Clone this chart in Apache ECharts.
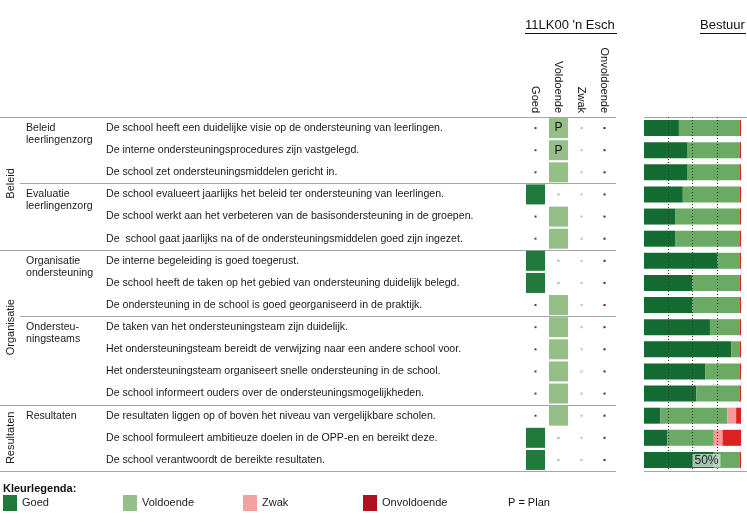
<!DOCTYPE html>
<html><head><meta charset="utf-8">
<script src="https://cdn.jsdelivr.net/npm/echarts@6/dist/echarts.min.js"></script>
<style>html,body{margin:0;padding:0;background:#fff}#c{width:747px;height:524px}</style>
</head><body><div id="c"></div>
<script>
const statements = [
  'De school heeft een duidelijke visie op de ondersteuning van leerlingen.',
  'De interne ondersteuningsprocedures zijn vastgelegd.',
  'De school zet ondersteuningsmiddelen gericht in.',
  'De school evalueert jaarlijks het beleid ter ondersteuning van leerlingen.',
  'De school werkt aan het verbeteren van de basisondersteuning in de groepen.',
  'De  school gaat jaarlijks na of de ondersteuningsmiddelen goed zijn ingezet.',
  'De interne begeleiding is goed toegerust.',
  'De school heeft de taken op het gebied van ondersteuning duidelijk belegd.',
  'De ondersteuning in de school is goed georganiseerd in de praktijk.',
  'De taken van het ondersteuningsteam zijn duidelijk.',
  'Het ondersteuningsteam bereidt de verwijzing naar een andere school voor.',
  'Het ondersteuningsteam organiseert snelle ondersteuning in de school.',
  'De school informeert ouders over de ondersteuningsmogelijkheden.',
  'De resultaten liggen op of boven het niveau van vergelijkbare scholen.',
  'De school formuleert ambitieuze doelen in de OPP-en en bereikt deze.',
  'De school verantwoordt de bereikte resultaten.'
];
const subgroups = ['Beleid\nleerlingenzorg','','','Evaluatie\nleerlingenzorg','','','Organisatie\nondersteuning','','','Ondersteu-\nningsteams','','','','Resultaten','',''];
const groups = [
  {name: 'Beleid', from: 0, to: 6},
  {name: 'Organisatie', from: 6, to: 13},
  {name: 'Resultaten', from: 13, to: 16}
];
const columns = ['Goed', 'Voldoende', 'Zwak', 'Onvoldoende'];
// school rating: column index per statement
const schoolRating = [1,1,1,0,1,1,0,0,1,1,1,1,1,1,0,0];
const plan = [1,1,0,0,0,0,0,0,0,0,0,0,0,0,0,0];
// Bestuur percentages
const bestuurGoed = [36,45,45,40,32,32,76,50,50,68,90,63,54,17,24,72];
const bestuurVoldoende = [63,54,54,59,67,67,23,49,49,31,9,36,45,69,48,27];
const bestuurZwak = [0,0,0,0,0,0,0,0,0,0,0,0,0,9,9,0];
const bestuurOnvoldoende = [1,1,1,1,1,1,1,1,1,1,1,1,1,5,19,1];
const fullRules = [0,6,13,16];
const indentRules = [3,9];
const xTicks = [0,25,50,75,100];

const cellColors = ['#217a3c','#95bf87','#f4a0a0','#b01020'];
const dotColors = ['#2f5040','#8fbf8f','#e4a8b0','#701030'];
const barColors = ['#146b32','#6aaa64','#f59a9a','#dd2020'];
const legendColors = ['#1f7a3a','#94bf86','#f4a0a0','#b01020'];
const FONT = '"Liberation Sans", Arial, sans-serif';

const cellData = schoolRating.map((c, i) => ({
  value: [c, i],
  itemStyle: {color: cellColors[c], opacity: 1},
  label: {show: !!plan[i]}
}));
const dotData = [];
schoolRating.forEach((c, i) => {
  for (let k = 0; k < columns.length; k++) if (k !== c) dotData.push({value: [k, i], itemStyle: {color: dotColors[k], opacity: 1}});
});
const groupLabel = {};
groups.forEach(g => { groupLabel[(g.from + g.to) / 2] = g.name; });

function ruleRender(params, api) {
  const y = Math.round(api.coord([0, api.value(1)])[1]) + 0.5;
  const cs = params.coordSys;
  return {type: 'line', shape: {x1: cs.x, y1: y, x2: cs.x + cs.width, y2: y},
          style: {stroke: '#a6a6a6', lineWidth: 1}};
}
const legendLeft = [3, 123, 243, 363];
const G = {top: 117, height: 354, outerBoundsMode: 'none', containLabel: false};

const chart = echarts.init(document.getElementById('c'));
const option = {
  animation: false,
  textStyle: {fontFamily: FONT},
  title: [
    {text: "11LK00 'n Esch", left: 525, top: 19, padding: 0, textStyle: {fontSize: 13, fontWeight: 'normal', color: '#111', fontFamily: FONT}},
    {text: 'Bestuur', left: 700, top: 19, padding: 0, textStyle: {fontSize: 13, fontWeight: 'normal', color: '#111', fontFamily: FONT}},
    {text: 'Kleurlegenda:', left: 3, top: 483, padding: 0, textStyle: {fontSize: 11, fontWeight: 'bold', color: '#111', fontFamily: FONT}},
    {text: 'P = Plan', left: 508, top: 497, padding: 0, textStyle: {fontSize: 11, fontWeight: 'normal', color: '#111', fontFamily: FONT}}
  ],
  graphic: [
    {type: 'line', shape: {x1: 525, y1: 33.5, x2: 617, y2: 33.5}, style: {stroke: '#111', lineWidth: 1}},
    {type: 'line', shape: {x1: 700, y1: 33.5, x2: 746, y2: 33.5}, style: {stroke: '#111', lineWidth: 1}}
  ],
  legend: columns.map((n, i) => ({
    left: legendLeft[i], top: 495, itemWidth: 14, itemHeight: 16, icon: 'rect', padding: 0,
    selectedMode: false,
    textStyle: {fontSize: 11, color: '#222', fontFamily: FONT},
    data: [{name: n, itemStyle: {color: legendColors[i]}}]
  })),
  grid: [
    Object.assign({left: 524, width: 92}, G),
    Object.assign({left: 0, width: 616}, G),
    Object.assign({left: 20, width: 596}, G),
    Object.assign({left: 644, width: 97}, G),
    Object.assign({left: 644, width: 103}, G),
    Object.assign({left: 26, width: 78}, G),
    Object.assign({left: 16, width: 4}, G)
  ],
  xAxis: [
    {type: 'category', gridIndex: 0, data: columns, position: 'top',
     axisLine: {show: false}, axisTick: {show: false},
     axisLabel: {rotate: 90, margin: 4, fontSize: 11, color: '#111', interval: 0}},
    {type: 'value', gridIndex: 1, min: 0, max: 1, show: false},
    {type: 'value', gridIndex: 2, min: 0, max: 1, show: false},
    {type: 'value', gridIndex: 3, min: 0, max: 100, interval: 25, z: 5,
     axisLine: {show: false}, axisTick: {show: false},
     splitLine: {show: true, showMinLine: false, showMaxLine: false, lineStyle: {type: [1, 2], color: '#333', width: 1}},
     axisLabel: {inside: true, margin: 4, align: 'left', fontSize: 12, color: '#222',
       rich: {p: {fontSize: 12, color: '#222', backgroundColor: 'rgba(215,228,220,0.75)', padding: [1, 2, 0, 2]}},
       formatter: v => (v === xTicks[2] ? '{p|' + v + '%}' : '')}},
    {type: 'value', gridIndex: 4, min: 0, max: 1, show: false},
    {type: 'value', gridIndex: 5, min: 0, max: 1, show: false},
    {type: 'value', gridIndex: 6, min: 0, max: 1, show: false}
  ],
  yAxis: [
    {type: 'category', gridIndex: 0, data: statements, inverse: true,
     axisLine: {show: false}, axisTick: {show: false},
     axisLabel: {margin: 418, align: 'left', fontSize: 10.6, color: '#1a1a1a', interval: 0}},
    {type: 'category', gridIndex: 5, data: subgroups, inverse: true,
     axisLine: {show: false}, axisTick: {show: false},
     axisLabel: {inside: true, margin: 0, align: 'left', verticalAlign: 'top', padding: [-6, 0, 0, 0], lineHeight: 12, fontSize: 10.6, color: '#1a1a1a', interval: 0}},
    {type: 'value', gridIndex: 6, min: 0, max: 16, interval: 0.5, inverse: true,
     axisLine: {show: false}, axisTick: {show: false}, splitLine: {show: false},
     axisLabel: {rotate: 90, margin: 0, fontSize: 11, color: '#1a1a1a', showMinLabel: true, showMaxLabel: true,
       formatter: v => groupLabel[v] || ''}},
    {type: 'value', gridIndex: 1, min: 0, max: 16, inverse: true, show: false},
    {type: 'value', gridIndex: 2, min: 0, max: 16, inverse: true, show: false},
    {type: 'category', gridIndex: 3, data: statements, inverse: true, show: false},
    {type: 'value', gridIndex: 4, min: 0, max: 16, inverse: true, show: false}
  ],
  series: [
    {type: 'scatter', name: 'school', xAxisIndex: 0, yAxisIndex: 0, symbol: 'rect', symbolSize: [19, 20],
     data: cellData, silent: true,
     label: {show: false, position: 'inside', formatter: 'P', fontSize: 12, color: '#111'}},
    {type: 'scatter', name: 'dots', xAxisIndex: 0, yAxisIndex: 0, symbol: 'rect', symbolSize: 2,
     data: dotData, silent: true},
    {type: 'custom', name: 'rules1', xAxisIndex: 1, yAxisIndex: 3, renderItem: ruleRender,
     data: fullRules.map(v => [0, v]), silent: true},
    {type: 'custom', name: 'rules2', xAxisIndex: 2, yAxisIndex: 4, renderItem: ruleRender,
     data: indentRules.map(v => [0, v]), silent: true},
    {type: 'custom', name: 'frame', xAxisIndex: 4, yAxisIndex: 6, renderItem: ruleRender,
     data: [[0, 0], [0, 16]], silent: true},
    {type: 'bar', name: 'Goed', stack: 'b', xAxisIndex: 3, yAxisIndex: 5, barWidth: 16, data: bestuurGoed, itemStyle: {color: barColors[0]}, silent: true},
    {type: 'bar', name: 'Voldoende', stack: 'b', xAxisIndex: 3, yAxisIndex: 5, barWidth: 16, data: bestuurVoldoende, itemStyle: {color: barColors[1]}, silent: true},
    {type: 'bar', name: 'Zwak', stack: 'b', xAxisIndex: 3, yAxisIndex: 5, barWidth: 16, data: bestuurZwak, itemStyle: {color: barColors[2]}, silent: true},
    {type: 'bar', name: 'Onvoldoende', stack: 'b', xAxisIndex: 3, yAxisIndex: 5, barWidth: 16, data: bestuurOnvoldoende, itemStyle: {color: barColors[3]}, silent: true}
  ]
};
chart.setOption(option);
</script>
</body></html>
